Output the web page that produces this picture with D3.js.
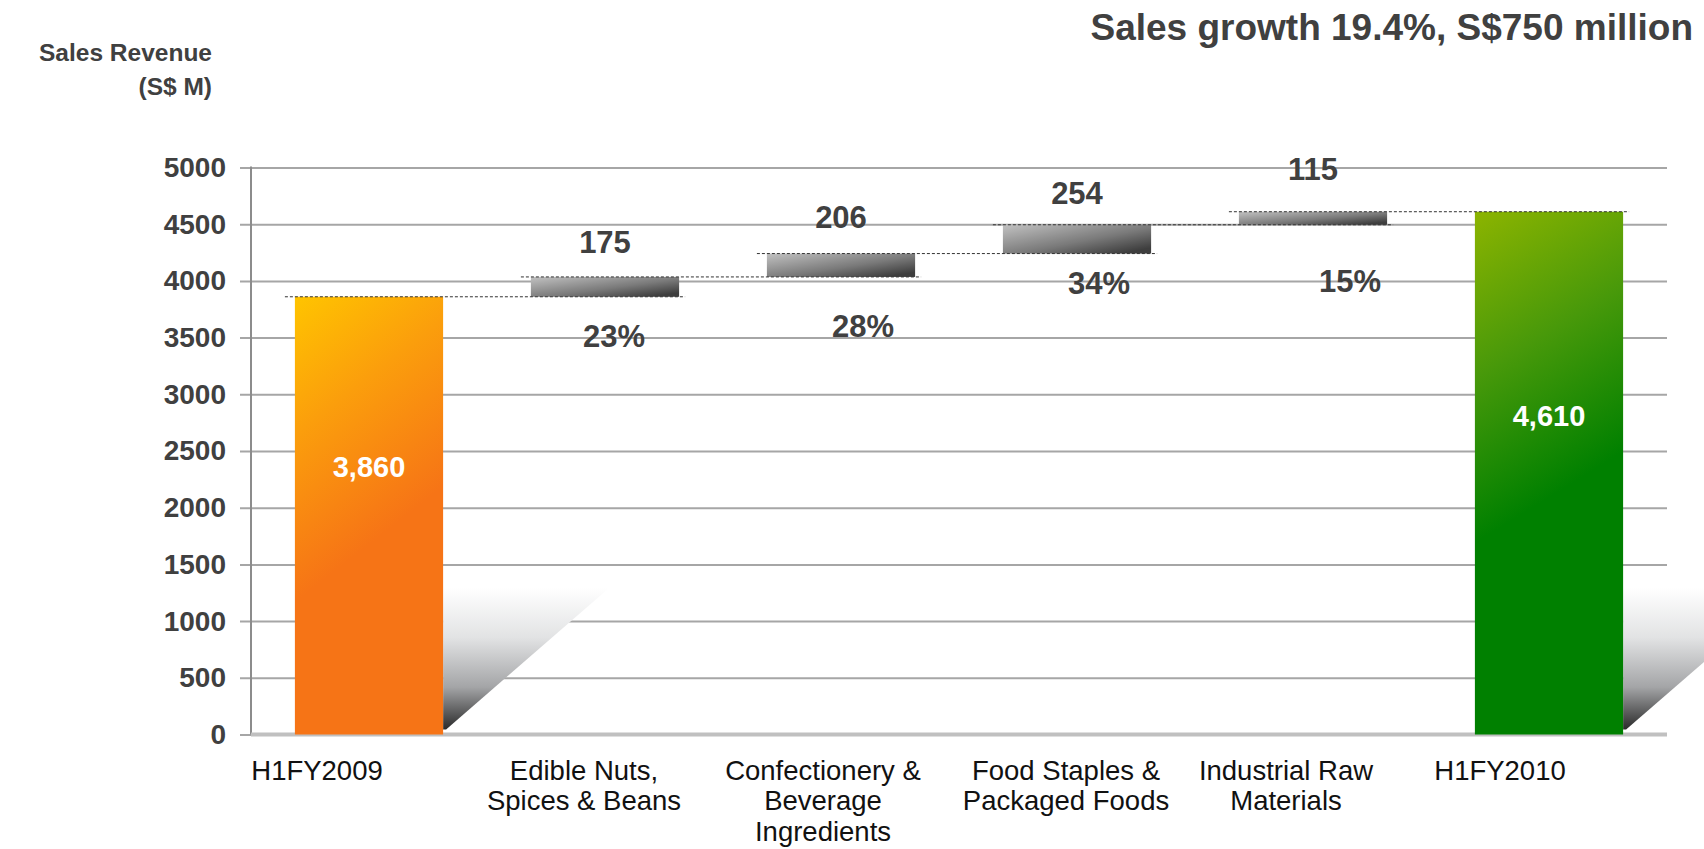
<!DOCTYPE html>
<html>
<head>
<meta charset="utf-8">
<script src="https://cdn.jsdelivr.net/npm/d3@7/dist/d3.min.js"></script>
<style>
  html, body { margin: 0; padding: 0; background: #fff; }
  svg { display: block; font-family: "Liberation Sans", Arial, Helvetica, sans-serif; }
</style>
</head>
<body>
<svg id="chart" width="1704" height="849"></svg>
<script>
// data
const categories = ['H1FY2009', 'Edible Nuts, Spices & Beans', 'Confectionery & Beverage Ingredients',
    'Food Staples & Packaged Foods', 'Industrial Raw Materials', 'H1FY2010'];
const categoryLines = [['H1FY2009'], ['Edible Nuts,', 'Spices & Beans'], ['Confectionery &', 'Beverage', 'Ingredients'],
    ['Food Staples &', 'Packaged Foods'], ['Industrial Raw', 'Materials'], ['H1FY2010']];
const values = [3860, 175, 206, 254, 115, 4610];
const kinds = ['total', 'step', 'step', 'step', 'step', 'total'];
const shares = ['', '23%', '28%', '34%', '15%', ''];
const yTicks = [0, 500, 1000, 1500, 2000, 2500, 3000, 3500, 4000, 4500, 5000];

// label nudges (the slide placed these by hand)
const catDx = [-52, -21, -18, -11, -27, -49];
const valueDy = [0, 24, 26, 21, 32, 0];
const shareDx = [0, 9, 22, 22, 37, 0];
const shareDy = [0, 50, 60, 40, 67, 0];

const svg = d3.select('#chart');
const plotL = 251, plotR = 1667, plotT = 167.5, plotB = 734.5;
const ink = '#404040';

const x = d3.scaleBand().domain(categories).range([plotL, plotR]).paddingInner(0.372).paddingOuter(0.186);
const y = d3.scaleLinear().domain([0, 5000]).range([plotB, plotT]);

// running totals -> floating bars
let run = 0;
const bars = categories.map((c, i) => {
    let y0, y1;
    if (kinds[i] === 'total') { y0 = 0; y1 = values[i]; run = values[i]; }
    else { y0 = run; y1 = run + values[i]; run = y1; }
    return { cat: c, i, y0, y1, kind: kinds[i], value: values[i] };
});

const defs = svg.append('defs');
function grad(id, attrs, stops) {
    const g = defs.append('linearGradient').attr('id', id);
    Object.keys(attrs).forEach(k => g.attr(k, attrs[k]));
    stops.forEach(s => g.append('stop').attr('offset', s[0]).attr('stop-color', s[1]));
}
const b0 = bars[0], b5 = bars[5], bw = x.bandwidth();
grad('orange', { gradientUnits: 'userSpaceOnUse', x1: x(b0.cat), y1: y(b0.y1), x2: x(b0.cat) + bw, y2: y(b0.y1) + 190 },
    [[0, '#ffc400'], [0.45, '#fb9e0c'], [1, '#f67416']]);
grad('green', { gradientUnits: 'userSpaceOnUse', x1: x(b5.cat), y1: y(b5.y1), x2: x(b5.cat) + bw, y2: y(b5.y1) + 240 },
    [[0, '#8cb400'], [0.5, '#48990a'], [1, '#008000']]);
grad('grey', { x1: 0, y1: 0, x2: 1, y2: 1 }, [[0, '#c2c2c2'], [0.55, '#7a7a7a'], [0.9, '#3e3e3e']]);
grad('shadow', { x1: 0, y1: 0, x2: 0, y2: 1 }, [[0, '#ffffff'], [0.35, '#e2e3e4'], [0.7, '#a4a5a7'], [1, '#2a2a2a']]);

// y axis with gridlines
const yAxis = svg.append('g')
    .attr('transform', `translate(${plotL},0)`)
    .call(d3.axisLeft(y).tickValues(yTicks).tickFormat(d3.format('d'))
        .tickSizeInner(-(plotR - plotL)).tickSizeOuter(0).tickPadding(25));
yAxis.select('.domain').remove();
yAxis.selectAll('.tick line').attr('x1', -11).attr('stroke', '#a6a6a6').attr('stroke-width', 2);
yAxis.selectAll('.tick text')
    .attr('fill', ink).attr('font-size', 28).attr('font-weight', 'bold');
svg.append('line').attr('x1', plotL).attr('x2', plotL).attr('y1', y(5000) - 1).attr('y2', plotB)
    .attr('stroke', '#8c8c8c').attr('stroke-width', 2);

// reflection under the two total bars
svg.append('g').selectAll('polygon')
    .data(bars.filter(d => d.kind === 'total'))
    .join('polygon')
    .attr('fill', 'url(#shadow)')
    .attr('points', d => {
        const r = x(d.cat) + bw;
        return [[r, 588], [r + 166, 588], [r + 3, plotB - 5], [r, plotB - 5]].join(' ');
    });

// bottom axis line
svg.append('line').attr('x1', plotL).attr('x2', plotR).attr('y1', plotB).attr('y2', plotB)
    .attr('stroke', '#c0c0c0').attr('stroke-width', 4);

// bars
svg.append('g').selectAll('rect')
    .data(bars)
    .join('rect')
    .attr('x', d => x(d.cat))
    .attr('width', bw)
    .attr('y', d => y(d.y1))
    .attr('height', d => y(d.y0) - y(d.y1))
    .attr('fill', d => d.i === 0 ? 'url(#orange)' : d.kind === 'total' ? 'url(#green)' : 'url(#grey)');

// dashed connectors
svg.append('g').selectAll('line')
    .data(bars.slice(0, -1))
    .join('line')
    .attr('x1', d => x(d.cat) - 10)
    .attr('x2', d => x(categories[d.i + 1]) + bw + 6)
    .attr('y1', d => y(d.y1))
    .attr('y2', d => y(d.y1))
    .attr('stroke', '#333').attr('stroke-width', 1).attr('stroke-dasharray', '3,2');

// values on the steps
const steps = bars.filter(d => d.kind === 'step');
svg.append('g').selectAll('text')
    .data(steps)
    .join('text')
    .attr('x', d => x(d.cat) + bw / 2)
    .attr('y', d => y(d.y1) - valueDy[d.i])
    .attr('text-anchor', 'middle')
    .attr('font-size', 31).attr('font-weight', 'bold').attr('fill', ink)
    .text(d => d3.format(',')(d.value));

svg.append('g').selectAll('text')
    .data(steps)
    .join('text')
    .attr('x', d => x(d.cat) + bw / 2 + shareDx[d.i])
    .attr('y', d => y(d.y0) + shareDy[d.i])
    .attr('text-anchor', 'middle')
    .attr('font-size', 31).attr('font-weight', 'bold').attr('fill', ink)
    .text(d => shares[d.i]);

// totals inside bars
svg.append('g').selectAll('text')
    .data(bars.filter(d => d.kind === 'total'))
    .join('text')
    .attr('x', d => x(d.cat) + bw / 2)
    .attr('y', d => y(d.y1) + (y(0) - y(d.y1)) * 0.39 + 10)
    .attr('text-anchor', 'middle')
    .attr('font-size', 29).attr('font-weight', 'bold').attr('fill', '#fff')
    .text(d => d3.format(',')(d.value));

// category labels
const xAxis = svg.append('g')
    .attr('transform', `translate(0,${plotB})`)
    .call(d3.axisBottom(x).tickSize(0).tickFormat(''));
xAxis.select('.domain').remove();
xAxis.selectAll('.tick text')
    .attr('fill', '#111').attr('font-size', 27.5)
    .attr('text-anchor', 'middle')
    .attr('y', 0).attr('dy', 0)
    .each(function (c, i) {
        const t = d3.select(this);
        categoryLines[i].forEach((line, k) => {
            t.append('tspan').attr('x', catDx[i]).attr('y', 45 + k * 30.5).text(line);
        });
    });

// titles
svg.append('text').attr('x', 1693).attr('y', 40).attr('text-anchor', 'end')
    .attr('font-size', 37).attr('font-weight', 'bold').attr('fill', ink)
    .text('Sales growth 19.4%, S$750 million');
svg.append('text').attr('x', 212).attr('y', 61).attr('text-anchor', 'end')
    .attr('font-size', 24.5).attr('font-weight', 'bold').attr('fill', ink)
    .text('Sales Revenue');
svg.append('text').attr('x', 212).attr('y', 95).attr('text-anchor', 'end')
    .attr('font-size', 24.5).attr('font-weight', 'bold').attr('fill', ink)
    .text('(S$ M)');
</script>
</body>
</html>
